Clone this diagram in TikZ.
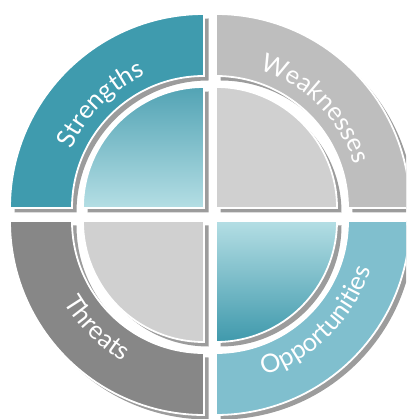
\documentclass[tikz,border=0pt]{standalone}
\usepackage{fontspec}
\setmainfont{Lato}
\usetikzlibrary{decorations.text}
\definecolor{sRing}{HTML}{3F9BAE}
\definecolor{wRing}{HTML}{BEBEBE}
\definecolor{tRing}{HTML}{878787}
\definecolor{oRing}{HTML}{80BFCE}
\definecolor{greyDisc}{HTML}{D0D0D0}
\definecolor{tealDark}{HTML}{3F99AC}
\definecolor{tealLight}{HTML}{B4DEE4}
\definecolor{shadowgray}{HTML}{9C9C9C}
\newcommand\Ro{194}
\newcommand\Ri{132}
\newcommand\Rd{121}
\newcommand\ringP[2]{\path[#2] (#1:\Ro) arc[start angle=#1,delta angle=90,radius=\Ro] -- ({#1+90}:\Ri) arc[start angle={#1+90},delta angle=-90,radius=\Ri] -- cycle;}
\newcommand\discP[2]{\path[#2] (0,0) -- (#1:\Rd) arc[start angle=#1,delta angle=90,radius=\Rd] -- cycle;}
\newcommand\swotfont{\fontsize{25.5}{25.5}\selectfont\color{white}}
\tikzset{
  shadowfill/.style={fill=shadowgray, shift={(4.5,-4.5)}},
  shapeline/.style={draw=white, line width=1.8pt},
  swottext/.style={decorate, decoration={text along path, text align=center, text={|\swotfont|#1}}}
}
\begin{document}
\begin{tikzpicture}[x=1pt,y=1pt]
\useasboundingbox (-210,-204.5) rectangle (196,214.5);
\clip (-210,-204.5) rectangle (196,214.5);
% Strengths
\begin{scope}[shift={(-6,6.5)}]
  \ringP{90}{shadowfill}
  \ringP{90}{shapeline, fill=sRing}
  \discP{90}{shadowfill}
  \discP{90}{shapeline, top color=tealDark!90!white, bottom color=tealLight}
  \path[swottext=Strengths] (180:145) arc[start angle=180, end angle=90, radius=145];
\end{scope}
% Weaknesses
\begin{scope}[shift={(6,6.5)}]
  \ringP{0}{shadowfill}
  \ringP{0}{shapeline, fill=wRing}
  \discP{0}{shadowfill}
  \discP{0}{shapeline, fill=greyDisc}
  \path[swottext=Weaknesses] (90:145) arc[start angle=90, end angle=0, radius=145];
\end{scope}
% Threats
\begin{scope}[shift={(-6,-6.5)}]
  \ringP{180}{shadowfill}
  \ringP{180}{shapeline, fill=tRing}
  \discP{180}{shadowfill}
  \discP{180}{shapeline, fill=greyDisc}
  \path[swottext=Threats] (180:162) arc[start angle=180, end angle=270, radius=162];
\end{scope}
% Opportunities
\begin{scope}[shift={(6,-6.5)}]
  \ringP{270}{shadowfill}
  \ringP{270}{shapeline, fill=oRing}
  \discP{270}{shadowfill}
  \discP{270}{shapeline, top color=tealLight, bottom color=tealDark}
  \path[swottext=Opportunities] (270:162) arc[start angle=270, end angle=360, radius=162];
\end{scope}
\end{tikzpicture}
\end{document}
